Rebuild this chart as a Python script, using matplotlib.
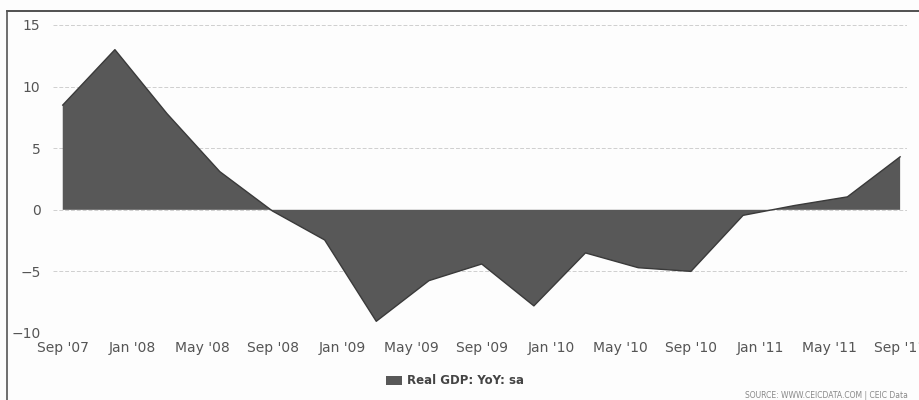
import matplotlib
matplotlib.use("Agg")
import matplotlib.pyplot as plt
import matplotlib.dates as mdates
from matplotlib.lines import Line2D
import pandas as pd

# ---- data ----
quarters = ["2007-09", "2007-12", "2008-03", "2008-06", "2008-09", "2008-12",
            "2009-03", "2009-06", "2009-09", "2009-12", "2010-03", "2010-06",
            "2010-09", "2010-12", "2011-03", "2011-06", "2011-09"]
gdp_yoy = [8.5, 13.0, 7.8, 3.1, -0.1, -2.45, -9.05, -5.75, -4.4, -7.8,
           -3.5, -4.7, -5.0, -0.45, 0.35, 1.05, 4.3]
tick_months = ["2007-09", "2008-01", "2008-05", "2008-09", "2009-01", "2009-05",
               "2009-09", "2010-01", "2010-05", "2010-09", "2011-01", "2011-05",
               "2011-09"]
y_ticks = [-10, -5, 0, 5, 10, 15]
series_name = "Real GDP: YoY: sa"
source_text = "SOURCE: WWW.CEICDATA.COM | CEIC Data"

dates = pd.to_datetime(quarters)
tick_dates = pd.to_datetime(tick_months)

fig = plt.figure(figsize=(9.2, 4.0), dpi=100)
fig.patch.set_facecolor("#fdfdfd")

ax = fig.add_axes([53 / 920, 1 - 333 / 400, (907 - 53) / 920, (333 - 25) / 400])
ax.set_facecolor("#fdfdfd")

area = ax.fill_between(dates, gdp_yoy, 0, facecolor="#585858", edgecolor="none",
                       label=series_name, zorder=3)
ax.plot(dates, gdp_yoy, color="#3a3a3a", lw=1.0, zorder=4)

ax.set_ylim(-10, 15)
ax.set_xlim(dates[0] - pd.Timedelta(days=17), dates[-1] + pd.Timedelta(days=12))
ax.set_yticks(y_ticks)
ax.set_xticks(tick_dates)
ax.xaxis.set_major_formatter(mdates.DateFormatter("%b '%y"))

for s in ax.spines.values():
    s.set_visible(False)
ax.tick_params(axis="both", length=0, labelsize=10, labelcolor="#555555")
ax.tick_params(axis="y", pad=9)
ax.tick_params(axis="x", pad=6)
ax.grid(axis="y", color="#cfcfcf", linestyle=(0, (4, 2)), lw=0.7, zorder=1)
ax.grid(axis="x", visible=False)

leg = fig.legend(handles=[area], labels=[series_name], loc="center",
                 bbox_to_anchor=(455 / 920, 1 - 381 / 400), frameon=False,
                 prop={"weight": "bold", "size": 8.5}, handlelength=1.3,
                 handleheight=0.9, handletextpad=0.4)
for t in leg.get_texts():
    t.set_color("#444444")

fig.text(908 / 920, 1 - 396 / 400, source_text, ha="right", va="center",
         fontsize=5.5, color="#888888")

# frame lines (top and left)
fig.add_artist(Line2D([7.5 / 920, 1.0], [1 - 11 / 400, 1 - 11 / 400],
                      transform=fig.transFigure, color="#333333", lw=1.2))
fig.add_artist(Line2D([7.5 / 920, 7.5 / 920], [0, 1 - 11 / 400],
                      transform=fig.transFigure, color="#555555", lw=1.2))

fig.savefig("out.png", dpi=100, facecolor=fig.get_facecolor())
